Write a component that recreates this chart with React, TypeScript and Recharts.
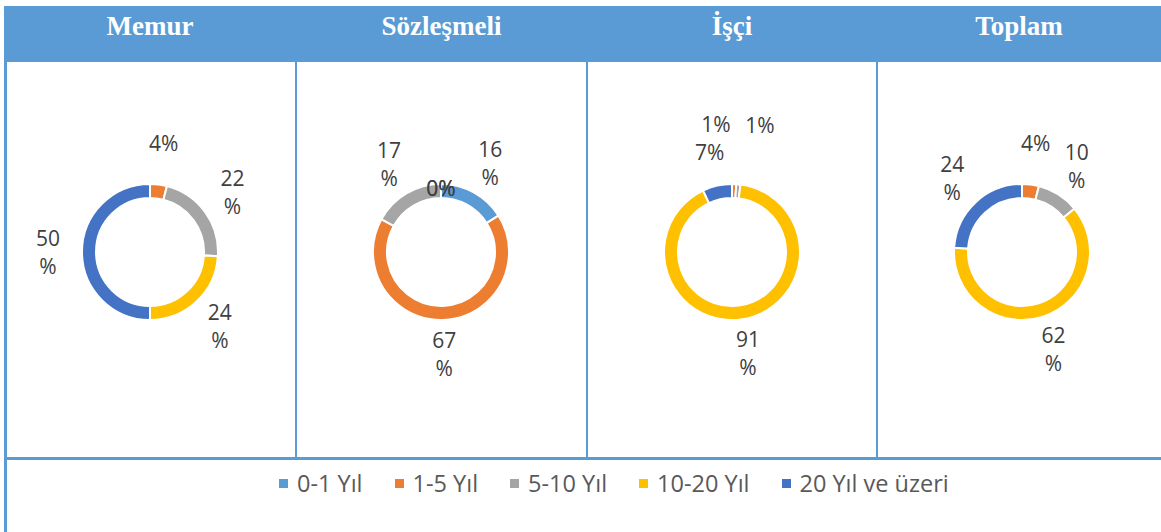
import React from "react";
import { PieChart, Pie, Cell, Legend } from "recharts";

const categories = ["0-1 Yıl", "1-5 Yıl", "5-10 Yıl", "10-20 Yıl", "20 Yıl ve üzeri"];
const colors = ["#5b9bd5", "#ed7d31", "#a5a5a5", "#ffc000", "#4472c4"];
const panels = ["Memur", "Sözleşmeli", "İşçi", "Toplam"];

// yüzde değerleri, kategori sırasıyla (null = veri yok)
const memur = [null, 4, 22, 24, 50];
const sozlesmeli = [16, 67, 17, 0, 0];
const isci = [null, 1, 1, 91, 7];
const toplam = [null, 4, 10, 62, 24];

const series = [memur, sozlesmeli, isci, toplam];
const centersX = [150, 441, 732, 1022];

const W = 1161;
const H = 532;
const BLUE = "#5b9bd5";
const FONT = "'Open Sans', 'Liberation Sans', sans-serif";
const RAD = Math.PI / 180;

function toRows(values: (number | null)[]) {
  return values
    .map((v, i) => ({ name: categories[i], value: v, cat: i }))
    .filter((d) => d.value !== null);
}

function renderLabel(props: any) {
  const { cx, cy, midAngle, value, percent, payload } = props;
  let r = 102;
  let dx = 0;
  if (value === 0) r = 64;
  else if (percent < 0.02) {
    r = 128;
    dx = payload.cat % 2 === 1 ? -20 : 16;
  } else if (percent < 0.05) {
    r = 110;
  }
  const x = cx + r * Math.cos(-midAngle * RAD) + dx;
  const y = cy + r * Math.sin(-midAngle * RAD);
  const common = {
    textAnchor: "middle" as const,
    dominantBaseline: "central" as const,
    fill: "#404040",
    fontSize: 21,
    fontFamily: FONT,
  };
  if (value >= 10) {
    return (
      <text x={x} y={y} {...common}>
        <tspan x={x} dy={-14}>{value}</tspan>
        <tspan x={x} dy={28}>%</tspan>
      </text>
    );
  }
  return (
    <text x={x} y={y} {...common}>
      {value}%
    </text>
  );
}

function LegendContent() {
  return (
    <div style={{ display: "flex", alignItems: "center", fontFamily: FONT, fontSize: 23.5, color: "#595959", whiteSpace: "nowrap" }}>
      {categories.map((c, i) => (
        <div key={c} style={{ display: "flex", alignItems: "center", marginRight: i < categories.length - 1 ? 32 : 0 }}>
          <span style={{ width: 9, height: 9, background: colors[i], display: "inline-block", marginRight: 9 }} />
          <span>{c}</span>
        </div>
      ))}
    </div>
  );
}

export default function App() {
  const colW = [4, 296, 587, 877, W];
  return (
    <div style={{ position: "absolute", left: 0, top: 0, width: W, height: H, background: "#fff", overflow: "hidden" }}>
      {/* başlık şeridi */}
      <div style={{ position: "absolute", left: 4, top: 6, width: W - 4, height: 56, background: BLUE }} />
      {panels.map((p, i) => (
        <div
          key={p}
          style={{
            position: "absolute",
            left: colW[i],
            width: colW[i + 1] - colW[i],
            top: 11,
            textAlign: "center",
            color: "#fff",
            fontFamily: "'Liberation Serif', 'DejaVu Serif', serif",
            fontWeight: "bold",
            fontSize: 27,
          }}
        >
          {p}
        </div>
      ))}
      {/* tablo çizgileri */}
      <div style={{ position: "absolute", left: 4, top: 62, width: 3, height: H - 62, background: BLUE }} />
      {[295, 586, 876].map((x) => (
        <div key={x} style={{ position: "absolute", left: x, top: 62, width: 2, height: 395, background: BLUE }} />
      ))}
      <div style={{ position: "absolute", left: 4, top: 457, width: W - 4, height: 3, background: BLUE }} />

      <div style={{ position: "absolute", left: 0, top: 0 }}>
        <PieChart width={W} height={H} margin={{ top: 0, right: 0, bottom: 0, left: 0 }}>
          {series.map((vals, i) => (
            <Pie
              key={panels[i]}
              data={toRows(vals)}
              dataKey="value"
              nameKey="name"
              cx={centersX[i]}
              cy={252}
              innerRadius={54}
              outerRadius={68}
              startAngle={90}
              endAngle={-270}
              stroke="#fff"
              strokeWidth={2}
              label={renderLabel}
              labelLine={false}
              isAnimationActive={false}
            >
              {toRows(vals).map((d) => (
                <Cell key={d.name} fill={colors[d.cat]} />
              ))}
            </Pie>
          ))}
          <Legend
            content={<LegendContent />}
            wrapperStyle={{ position: "absolute", left: 279, top: 467, width: "auto" }}
          />
        </PieChart>
      </div>
    </div>
  );
}
